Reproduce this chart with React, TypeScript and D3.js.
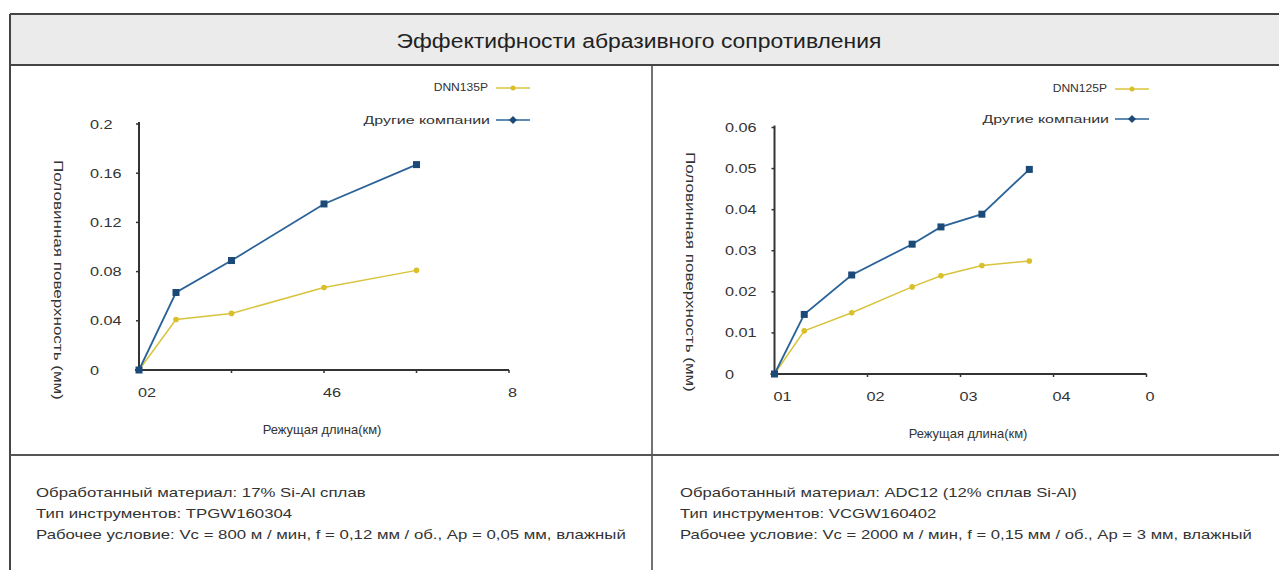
import React from "react";
import * as d3 from "d3";

// ---------- data ----------
const titleText = "Эффектифности абразивного сопротивления";
const yAxisTitle = "Половинная поверхность (мм)";
const xAxisTitle = "Режущая длина(км)";
const otherName = "Другие компании";

// left chart
const leftSeriesName = "DNN135P";
const leftX = [0, 0.8, 2, 4, 6];
const leftDNN = [0, 0.041, 0.046, 0.067, 0.081];
const leftOther = [0, 0.063, 0.089, 0.135, 0.167];
const leftXTicks = [0, 2, 4, 6, 8];
const leftXTickLabels = ["02", "", "46", "", "8"];
const leftYTicks = [0, 0.04, 0.08, 0.12, 0.16, 0.2];
const leftYTickLabels = ["0", "0.04", "0.08", "0.12", "0.16", "0.2"];
const leftInfo = [
  "Обработанный материал: 17% Si-Al сплав",
  "Тип инструментов: TPGW160304",
  "Рабочее условие: Vc = 800 м / мин, f = 0,12 мм / об., Ap = 0,05 мм, влажный",
];

// right chart
const rightSeriesName = "DNN125P";
const rightX = [0, 3.2, 8.3, 14.8, 17.9, 22.3, 27.4];
const rightDNN = [0, 0.0105, 0.0149, 0.0212, 0.0239, 0.0264, 0.0275];
const rightOther = [0, 0.0145, 0.0241, 0.0316, 0.0358, 0.0389, 0.0498];
const rightXTicks = [0, 10, 20, 30, 40];
const rightXTickLabels = ["01", "02", "03", "04", "0"];
const rightYTicks = [0, 0.01, 0.02, 0.03, 0.04, 0.05, 0.06];
const rightYTickLabels = ["0", "0.01", "0.02", "0.03", "0.04", "0.05", "0.06"];
const rightInfo = [
  "Обработанный материал: ADC12 (12% сплав Si-Al)",
  "Тип инструментов: VCGW160402",
  "Рабочее условие: Vc = 2000 м / мин, f = 0,15 мм / об., Ap = 3 мм, влажный",
];

// ---------- style ----------
const FONT = "'Liberation Sans', Arial, sans-serif";
const BLUE_LINE = "#2a6399";
const BLUE_MARK = "#1c4a78";
const YELLOW_LINE = "#d8c43c";
const YELLOW_MARK = "#d9bf2a";
const AXIS = "#333";
const TEXT = "#333";

type STextProps = {
  x: number;
  y: number;
  sx?: number;
  rotate?: number;
  size: number;
  anchor?: "start" | "middle" | "end";
  fill?: string;
  children: React.ReactNode;
};

// text horizontally stretched (the reference text is wide)
function SText({ x, y, sx = 1, rotate = 0, size, anchor = "start", fill = TEXT, children }: STextProps) {
  return (
    <text
      transform={`translate(${x},${y}) rotate(${rotate}) scale(${sx},1)`}
      dy="0.35em"
      textAnchor={anchor}
      fontSize={size}
      fontFamily={FONT}
      fill={fill}
    >
      {children}
    </text>
  );
}

type PanelProps = {
  xDomain: [number, number];
  xRange: [number, number];
  yDomain: [number, number];
  yRange: [number, number];
  xs: number[];
  dnn: number[];
  other: number[];
  xTicks: number[];
  xTickLabels: string[];
  yTicks: number[];
  yTickLabels: string[];
  yLabelX: number;
  yTitleX: number;
  yTitleY: number;
  xTitleX: number;
  seriesName: string;
  legendRight: number;
  legendY: [number, number];
};

function Panel(p: PanelProps) {
  const x = d3.scaleLinear().domain(p.xDomain).range(p.xRange);
  const y = d3.scaleLinear().domain(p.yDomain).range(p.yRange);
  const line = d3
    .line<[number, number]>()
    .x((d) => x(d[0]))
    .y((d) => y(d[1]));
  const dnnPts: [number, number][] = p.xs.map((v, i) => [v, p.dnn[i]]);
  const otherPts: [number, number][] = p.xs.map((v, i) => [v, p.other[i]]);
  const x0 = p.xRange[0];
  const y0 = p.yRange[0];
  const yTop = p.yRange[1];
  const xEnd = p.xRange[1];
  const lx = p.legendRight;
  return (
    <g>
      {/* axes */}
      <line x1={x0} y1={y0} x2={x0} y2={yTop - 2} stroke={AXIS} strokeWidth={2} />
      <line x1={x0 - 4} y1={y0} x2={xEnd} y2={y0} stroke={AXIS} strokeWidth={2} />
      {p.yTicks.map((t, i) => (
        <g key={"yt" + i}>
          <line x1={x0 - 3} x2={x0} y1={y(t)} y2={y(t)} stroke={AXIS} strokeWidth={1.5} />
          <SText x={p.yLabelX} y={y(t)} size={13} sx={1.25}>
            {p.yTickLabels[i]}
          </SText>
        </g>
      ))}
      {p.xTicks.map((t, i) => (
        <g key={"xt" + i}>
          <line x1={x(t)} x2={x(t)} y1={y0} y2={y0 + 3} stroke={AXIS} strokeWidth={1.5} />
          <SText x={x(t) - 1} y={y0 + 22} size={13} sx={1.25}>
            {p.xTickLabels[i]}
          </SText>
        </g>
      ))}
      {/* axis titles */}
      <SText x={p.yTitleX} y={p.yTitleY} rotate={90} sx={1.42} size={12} anchor="middle">
        {yAxisTitle}
      </SText>
      <SText x={p.xTitleX} y={y0 + 60} sx={1.08} size={12} anchor="middle">
        {xAxisTitle}
      </SText>
      {/* series */}
      <path d={line(dnnPts) || ""} fill="none" stroke={YELLOW_LINE} strokeWidth={1.5} />
      <path d={line(otherPts) || ""} fill="none" stroke={BLUE_LINE} strokeWidth={1.8} />
      {dnnPts.map((d, i) => (
        <circle key={"dm" + i} cx={x(d[0])} cy={y(d[1])} r={2.8} fill={YELLOW_MARK} />
      ))}
      {otherPts.map((d, i) => (
        <rect
          key={"om" + i}
          x={x(d[0]) - 3.5}
          y={y(d[1]) - 3.5}
          width={7}
          height={7}
          fill={BLUE_MARK}
        />
      ))}
      {/* legend */}
      <SText x={lx} y={p.legendY[0]} anchor="end" size={11.5} sx={1.05}>
        {p.seriesName}
      </SText>
      <line x1={lx + 8} x2={lx + 42} y1={p.legendY[0] + 1} y2={p.legendY[0] + 1} stroke={YELLOW_LINE} strokeWidth={1.5} />
      <circle cx={lx + 25} cy={p.legendY[0] + 1} r={2.5} fill={YELLOW_MARK} />
      <SText x={lx + 2} y={p.legendY[1]} anchor="end" size={11} sx={1.45}>
        {otherName}
      </SText>
      <line x1={lx + 8} x2={lx + 42} y1={p.legendY[1]} y2={p.legendY[1]} stroke={BLUE_LINE} strokeWidth={1.5} />
      <path
        d={`M${lx + 25},${p.legendY[1] - 4} L${lx + 29},${p.legendY[1]} L${lx + 25},${p.legendY[1] + 4} L${lx + 21},${p.legendY[1]} Z`}
        fill={BLUE_MARK}
      />
    </g>
  );
}

export default function App() {
  const W = 1279;
  const H = 570;
  return (
    <svg
      width={W}
      height={H}
      style={{ position: "absolute", left: 0, top: 0, background: "#fff" }}
    >
      {/* frame */}
      <rect x={10} y={14} width={1290} height={51} fill="#ebebeb" />
      <line x1={10} x2={1279} y1={14} y2={14} stroke="#444" strokeWidth={2} />
      <line x1={10} x2={1279} y1={65} y2={65} stroke="#444" strokeWidth={2} />
      <line x1={10} x2={10} y1={14} y2={570} stroke="#444" strokeWidth={2} />
      <line x1={652} x2={652} y1={65} y2={570} stroke="#444" strokeWidth={1.5} />
      <line x1={10} x2={1279} y1={455} y2={455} stroke="#555" strokeWidth={2} />
      <SText x={639} y={41} anchor="middle" size={21} sx={1.09} fill="#222">
        {titleText}
      </SText>

      <Panel
        xDomain={[0, 8]}
        xRange={[139, 509]}
        yDomain={[0, 0.2]}
        yRange={[370, 124]}
        xs={leftX}
        dnn={leftDNN}
        other={leftOther}
        xTicks={leftXTicks}
        xTickLabels={leftXTickLabels}
        yTicks={leftYTicks}
        yTickLabels={leftYTickLabels}
        yLabelX={90}
        yTitleX={58}
        yTitleY={280}
        xTitleX={322}
        seriesName={leftSeriesName}
        legendRight={488}
        legendY={[87, 120]}
      />
      <Panel
        xDomain={[0, 40]}
        xRange={[774.5, 1146.5]}
        yDomain={[0, 0.06]}
        yRange={[374, 127.5]}
        xs={rightX}
        dnn={rightDNN}
        other={rightOther}
        xTicks={rightXTicks}
        xTickLabels={rightXTickLabels}
        yTicks={rightYTicks}
        yTickLabels={rightYTickLabels}
        yLabelX={725}
        yTitleX={690}
        yTitleY={272}
        xTitleX={968}
        seriesName={rightSeriesName}
        legendRight={1107}
        legendY={[88, 119]}
      />

      {leftInfo.map((t, i) => (
        <SText key={"li" + i} x={36} y={493 + i * 21} size={12} sx={1.4}>
          {t}
        </SText>
      ))}
      {rightInfo.map((t, i) => (
        <SText key={"ri" + i} x={680} y={493 + i * 21} size={12} sx={1.39}>
          {t}
        </SText>
      ))}
    </svg>
  );
}
